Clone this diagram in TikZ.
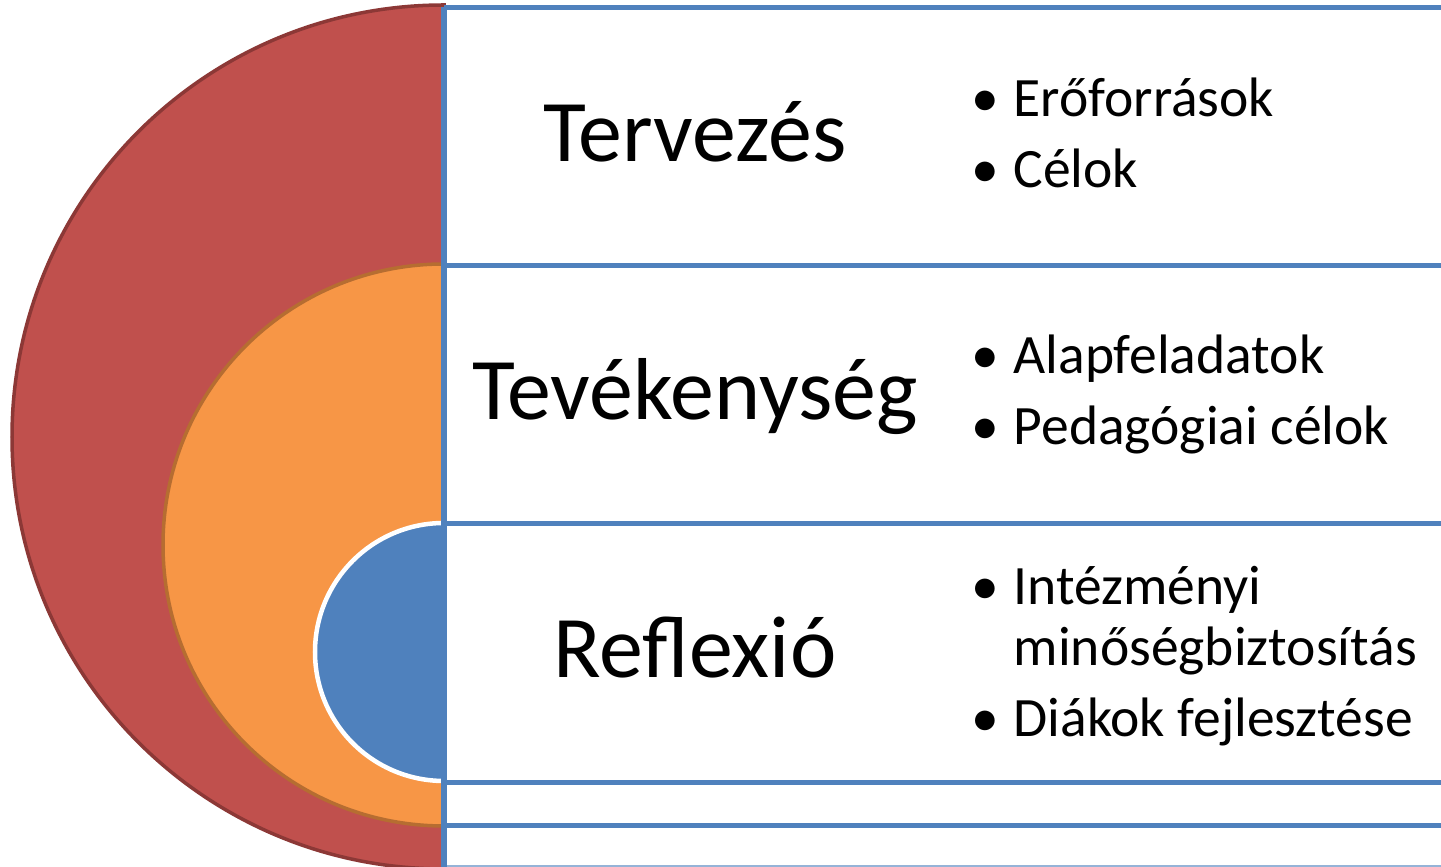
\documentclass[tikz,border=0pt]{standalone}
\usepackage{fontspec}
\setmainfont{Carlito}
\definecolor{tred}{HTML}{C0504D}
\definecolor{tredline}{HTML}{8C3836}
\definecolor{torange}{HTML}{F79646}
\definecolor{torangeline}{HTML}{B66D31}
\definecolor{tblue}{HTML}{4F81BD}
\definecolor{tbluelight}{HTML}{95B3D7}
\newcommand{\bl}{\makebox[0.42cm][l]{•}}
\tikzset{
  rule/.style={draw=tblue, line width=0.05cm},
  title/.style={font=\fontsize{25}{30}\selectfont, anchor=base},
  items/.style={font=\fontsize{15.8}{17.6}\selectfont, align=left, anchor=base west, inner sep=0pt}
}
\begin{document}
\begin{tikzpicture}[x=0.01cm, y=0.01cm]
\useasboundingbox (0,0) rectangle (1441,867);

%--- Nested half discs ---
% Outer (red)
\filldraw[fill=tred, draw=tredline, line width=0.035cm] (444,862) arc[start angle=90, end angle=270, radius=432] -- cycle;
% Middle (orange)
\filldraw[fill=torange, draw=torangeline, line width=0.035cm] (444,603) arc[start angle=90, end angle=270, radius=281] -- cycle;
% Inner (blue), white border
\filldraw[fill=tblue, draw=white, line width=0.045cm] (444,344) arc[start angle=90, end angle=270, radius=129] -- cycle;

%--- Rows ---
\coordinate (top) at (444,859.5);
\coordinate (bot) at (444,0);
\draw[rule] (top) -- (1441,859.5);
\draw[rule] (444,601.5) -- (1441,601.5);
\draw[rule] (444,343) -- (1441,343);
\draw[rule] (444,84) -- (1441,84);
\draw[rule] (444,41.5) -- (1441,41.5);
\draw[draw=tbluelight, line width=0.02cm] (444,1) -- (1441,1);
\draw[rule] (top) -- (bot);

%--- Titles ---
\node[title] (plan) at (695,705) {Tervezés};
\node[title] (act) at (695,447) {Tevékenység};
\node[title] (refl) at (695,189) {Reflexió};

%--- Bullet lists (anchored at last line) ---
\node[items] (planlist) at (971,679) {\bl Erőforrások\\[2.6pt] \bl Célok};
\node[items] (actlist) at (971,422) {\bl Alapfeladatok\\[2.6pt] \bl Pedagógiai célok};
\node[items] (refllist) at (971,130) {\bl Intézményi\\ \hspace*{0.42cm}minőségbiztosítás\\[2.6pt] \bl Diákok fejlesztése};

\end{tikzpicture}
\end{document}
